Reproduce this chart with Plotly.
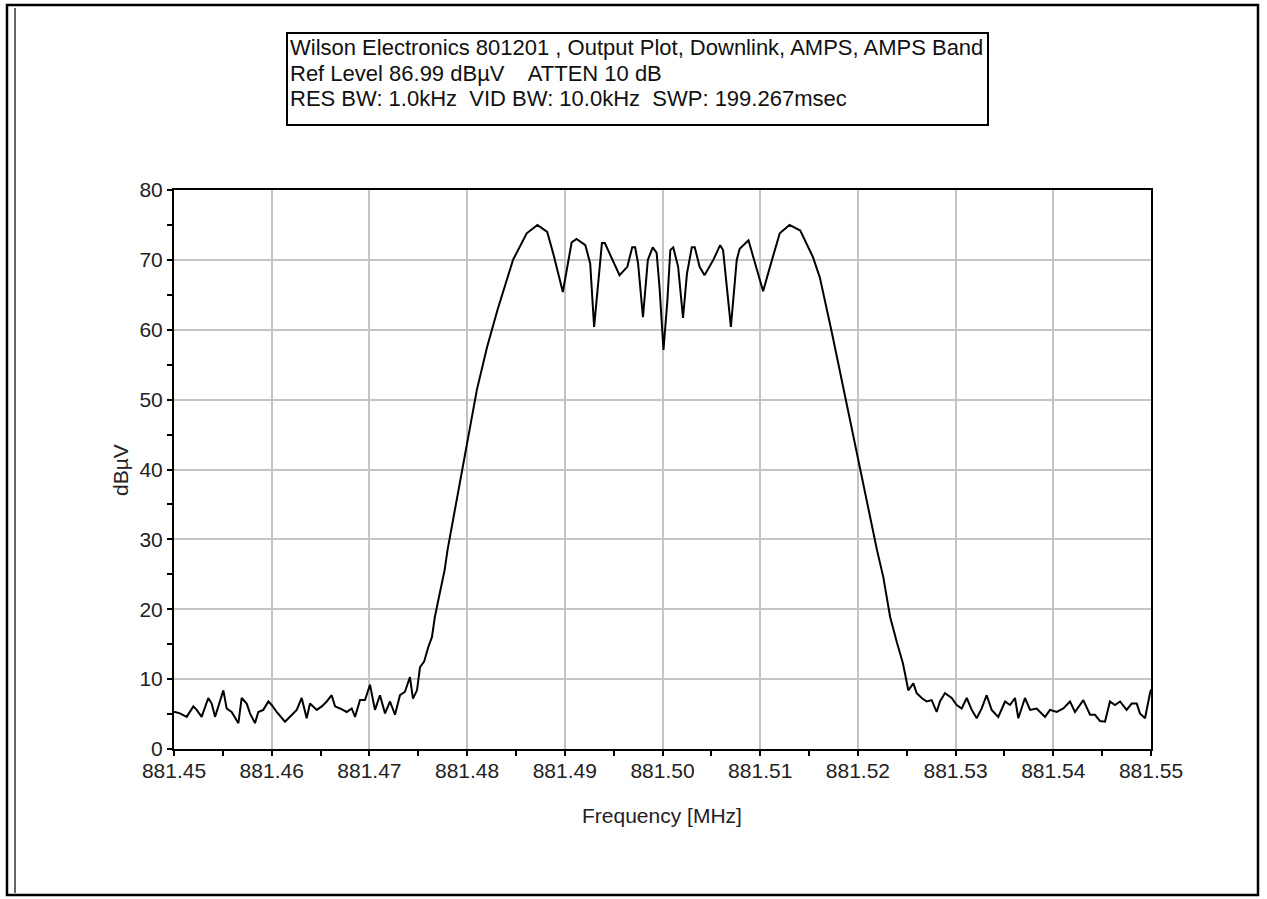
import plotly.graph_objects as go

# ---------------- data ----------------
start_mhz = 881.45
# frequency offsets from 881.45 MHz, in kHz
freq_offset_khz = [
    0.00, 0.10, 0.61, 1.30, 1.98, 2.32, 2.83, 3.51, 3.86, 4.20, 4.54, 5.05, 5.39, 5.90,
    6.59, 6.93, 7.44, 7.78, 8.29, 8.63, 9.14, 9.66, 10.00, 10.51, 11.36, 11.87, 12.56,
    13.07, 13.58, 13.92, 14.61, 15.12, 15.63, 16.14, 16.48, 16.99, 17.68, 18.19, 18.53,
    19.04, 19.55, 20.06, 20.57, 21.08, 21.60, 22.11, 22.62, 23.13, 23.64, 24.15, 24.46,
    24.87, 25.18, 25.60, 26.03, 26.40, 26.70, 27.20, 27.70, 28.00, 29.50, 31.00, 32.04,
    33.10, 34.70, 36.10, 37.20, 38.20, 38.80, 39.80, 40.70, 41.20, 42.10, 42.60, 43.00,
    43.80, 44.10, 44.90, 45.60, 46.40, 46.90, 47.20, 47.50, 48.00, 48.50, 49.00, 49.40,
    49.70, 50.10, 50.50, 50.80, 51.10, 51.60, 52.10, 52.50, 53.00, 53.30, 53.80, 54.30,
    55.20, 55.90, 56.20, 56.60, 57.00, 57.60, 57.90, 58.80, 59.30, 60.30, 61.00, 62.00,
    63.00, 64.10, 65.40, 66.10, 67.35, 68.70, 70.20, 71.95, 72.60, 73.30, 74.00, 74.60,
    74.82, 75.16, 75.67, 76.02, 76.53, 77.04, 77.55, 78.06, 78.40, 78.91, 79.60, 80.11,
    80.62, 81.14, 81.65, 82.16, 82.67, 83.18, 83.69, 84.37, 85.06, 85.57, 86.08, 86.42,
    87.10, 87.62, 88.30, 89.15, 89.66, 90.35, 91.03, 91.71, 92.22, 92.73, 93.07, 93.76,
    94.27, 94.78, 95.29, 95.80, 96.31, 96.83, 97.51, 98.02, 98.54, 98.87, 99.39, 99.90,
    100.00,
]
level_dbuv = [
    5.3, 5.3, 5.1, 4.6, 6.1, 5.6, 4.6, 7.3, 6.5, 4.6, 6.1, 8.4, 5.8, 5.3,
    3.7, 7.3, 6.5, 5.1, 3.7, 5.3, 5.6, 6.8, 6.3, 5.3, 3.9, 4.6, 5.6,
    7.3, 4.4, 6.5, 5.6, 6.1, 6.8, 7.7, 6.1, 5.8, 5.3, 5.8, 4.6,
    7.0, 7.0, 9.2, 5.6, 7.7, 5.1, 6.8, 4.9, 7.7, 8.2, 10.3, 7.2,
    8.4, 11.7, 12.5, 14.6, 16.0, 18.9, 22.3, 25.6, 28.5, 40.0, 51.4, 57.5,
    62.8, 70.0, 73.8, 75.0, 74.0, 71.0, 65.4, 72.5, 73.0, 72.1, 69.5, 60.4,
    72.4, 72.4, 70.0, 67.8, 69.0, 71.8, 71.8, 69.5, 61.8, 70.0, 71.8, 71.0,
    66.0, 57.1, 64.2, 71.4, 71.8, 69.0, 61.7, 68.0, 71.8, 71.8, 69.0, 67.8,
    70.0, 72.1, 71.4, 66.0, 60.4, 70.0, 71.6, 72.8, 70.4, 65.5, 69.0, 73.8,
    75.0, 74.2, 70.4, 67.5, 59.5, 50.5, 40.0, 28.5, 24.6, 18.9, 15.2, 12.3,
    10.8, 8.4, 9.4, 8.0, 7.3, 6.8, 7.0, 5.3, 6.8, 8.0, 7.3, 6.3,
    5.8, 7.3, 5.6, 4.4, 5.8, 7.7, 5.6, 4.6, 6.8, 6.3, 7.3, 4.4,
    7.3, 5.6, 5.8, 4.6, 5.6, 5.3, 5.8, 6.8, 5.3, 6.3, 7.0, 4.9,
    4.9, 4.0, 3.9, 6.8, 6.3, 6.8, 5.6, 6.5, 6.5, 5.1, 4.4, 8.0,
    8.5,
]
x_tick_vals = [881.45, 881.46, 881.47, 881.48, 881.49, 881.50,
               881.51, 881.52, 881.53, 881.54, 881.55]
x_tick_text = ["881.45", "881.46", "881.47", "881.48", "881.49", "881.50",
               "881.51", "881.52", "881.53", "881.54", "881.55"]
y_tick_vals = [0, 10, 20, 30, 40, 50, 60, 70, 80]

box_lines = [
    "Wilson Electronics 801201 , Output Plot, Downlink, AMPS, AMPS Band",
    "Ref Level 86.99 dB\u00b5V    ATTEN 10 dB",
    "RES BW: 1.0kHz  VID BW: 10.0kHz  SWP: 199.267msec",
]
x_title = "Frequency [MHz]"
y_title = "dB\u00b5V"

freq_mhz = [start_mhz + k / 1000.0 for k in freq_offset_khz]

# ---------------- layout geometry (pixels) ----------------
W, H = 1267, 899
PL, PR, PT, PB = 174, 1151, 190, 749   # plot area edges


def px(x):
    return (x - PL) / (PR - PL)


def py(y):
    return (PB - y) / (PB - PT)


FONT = "Liberation Sans, Arial, sans-serif"

fig = go.Figure()
fig.add_trace(go.Scatter(
    x=freq_mhz, y=level_dbuv, mode="lines",
    line=dict(color="black", width=2),
    hoverinfo="skip", showlegend=False,
))

axis_common = dict(
    showgrid=True, gridcolor="#c4c4c4", gridwidth=1.5,
    zeroline=False, showline=True, linecolor="black", linewidth=2,
    mirror=True, ticks="outside", ticklen=5, tickwidth=1.5, tickcolor="black",
    tickfont=dict(family=FONT, size=21, color="#222"),
)

overlay_common = dict(
    showgrid=False, zeroline=False, showline=False, showticklabels=False,
    ticks="inside", ticklen=5, tickwidth=1.5, tickcolor="black",
)

fig.update_layout(
    width=W, height=H,
    margin=dict(l=PL, r=W - PR, t=PT, b=H - PB, pad=0),
    paper_bgcolor="white", plot_bgcolor="white",
    showlegend=False,
    xaxis=dict(
        range=[881.45, 881.55], tickvals=x_tick_vals, ticktext=x_tick_text,
        ticklabelstandoff=-3,
        minor=dict(dtick=0.005, tick0=881.45, ticks="outside", ticklen=5,
                   tickwidth=1.5, tickcolor="black", showgrid=False),
        **axis_common,
    ),
    yaxis=dict(
        range=[0, 80], tickvals=y_tick_vals,
        minor=dict(dtick=5, tick0=0, ticks="outside", ticklen=5,
                   tickwidth=1.5, tickcolor="black", showgrid=False),
        **axis_common,
    ),
    xaxis2=dict(range=[881.45, 881.55], overlaying="x", anchor="y", side="bottom",
                dtick=0.005, tick0=881.45, **overlay_common),
    yaxis2=dict(range=[0, 80], overlaying="y", anchor="x", side="left",
                dtick=5, tick0=0, **overlay_common),
)

# title box
fig.add_shape(type="rect", xref="paper", yref="paper",
              x0=px(287), x1=px(988), y0=py(33), y1=py(125),
              line=dict(color="black", width=2), fillcolor="white", layer="above")
for line, yc in zip(box_lines, [48, 73, 98]):
    fig.add_annotation(xref="paper", yref="paper", x=px(288), y=py(yc),
                       xanchor="left", yanchor="middle", text=line,
                       showarrow=False,
                       font=dict(family=FONT, size=22, color="#111"))

# axis titles
fig.add_annotation(xref="paper", yref="paper", x=px(662), y=py(815),
                   xanchor="center", yanchor="middle", text=x_title,
                   showarrow=False, font=dict(family=FONT, size=21, color="#222"))
fig.add_annotation(xref="paper", yref="paper", x=px(120), y=py(470),
                   xanchor="center", yanchor="middle", text=y_title, textangle=-90,
                   showarrow=False, font=dict(family=FONT, size=21, color="#222"))

# outer window frame
fig.add_shape(type="rect", xref="paper", yref="paper",
              x0=px(7), x1=px(1258), y0=py(5), y1=py(895),
              line=dict(color="black", width=2.5))
fig.add_shape(type="line", xref="paper", yref="paper",
              x0=px(15), x1=px(15), y0=py(8), y1=py(893),
              line=dict(color="#333", width=1.5))

fig.write_html("out.html", config={"displayModeBar": False},
               post_script="document.body.style.margin='0';document.body.style.overflow='hidden';")
